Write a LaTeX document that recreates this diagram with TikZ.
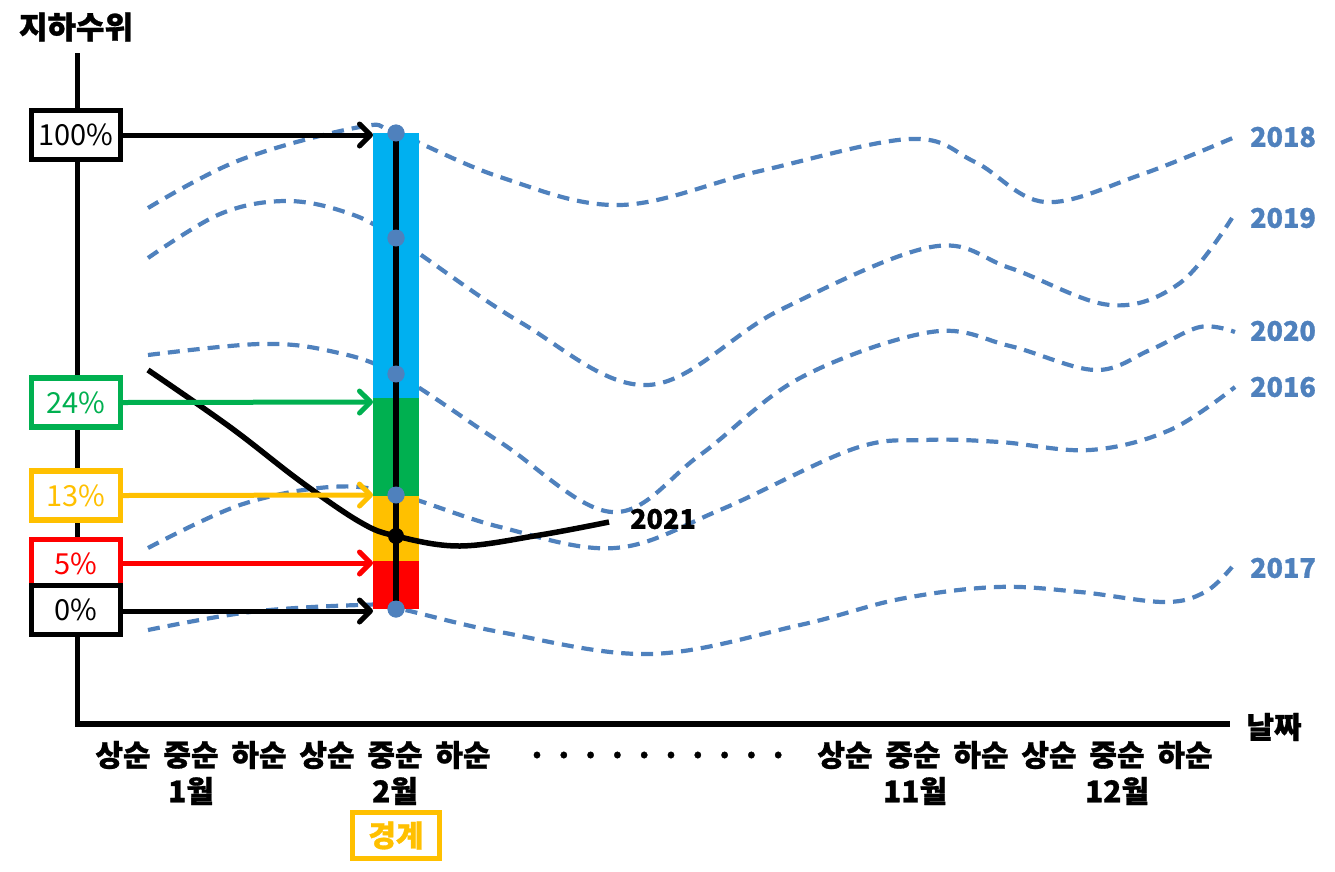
\documentclass[tikz,border=0pt]{standalone}
\usepackage{fontspec}
\setmainfont{Noto Sans CJK KR}[BoldFeatures={FakeBold=1}]
\usetikzlibrary{arrows.meta}
\definecolor{dblue}{HTML}{4F81BD}
\definecolor{barcyan}{HTML}{00B0F0}
\definecolor{bargreen}{HTML}{00B050}
\definecolor{baryellow}{HTML}{FFC000}
\definecolor{barred}{HTML}{FF0000}
\begin{document}
\begin{tikzpicture}[x=1pt,y=-1pt,
  pbox/.style={draw=#1, text=#1, line width=5.5pt, minimum width=89pt, minimum height=49pt, inner sep=0pt, fill=white, font=\fontsize{29}{31}\selectfont},
  hw/.style={font=\bfseries\fontsize{30}{32}\selectfont, inner sep=0pt},
  yr/.style={font=\bfseries\fontsize{27}{30}\selectfont, inner sep=0pt, text=dblue},
  arr/.style={draw=#1, line width=5pt, line cap=round, -{Straight Barb[length=11pt,width=22pt,line width=5pt,round]}},
  curve/.style={draw=dblue, line width=4.2pt, dash pattern=on 12pt off 8pt},
  dot/.style={circle, fill=dblue, minimum size=17pt, inner sep=0pt},
  axis/.style={line width=5.5pt}]
\useasboundingbox (0,0) rectangle (1335,871);

% axes
\coordinate (ytop) at (77.5,53);
\coordinate (orig) at (77.5,724);
\coordinate (xend) at (1230,724);
\draw[axis] (ytop) -- (orig) -- (xend);
\node[hw, font=\bfseries\fontsize{31}{33}\selectfont] (ylab) at (76,27) {지하수위};
\node[hw] (xlab) at (1274,727) {날짜};

% dashed curves
\draw[curve] plot[smooth, tension=0.6] coordinates {(148,208) (240,160) (360,127) (396,133) (500,177) (620,205) (760,171) (910,139) (975,162) (1045,202) (1140,175) (1235,137)};
\draw[curve] plot[smooth, tension=0.6] coordinates {(148,258) (220,214) (285,201) (345,212) (396,238) (520,322) (648,385) (780,310) (931,247) (1010,268) (1110,305) (1180,283) (1232,218)};
\draw[curve] plot[smooth, tension=0.6] coordinates {(148,355) (260,344) (330,351) (396,374) (500,442) (612,512) (700,455) (800,378) (931,332) (1010,346) (1095,370) (1150,350) (1200,327) (1235,332)};
\draw[curve] plot[smooth, tension=0.6] coordinates {(148,548) (240,505) (330,487) (396,494) (500,527) (615,548) (720,510) (853,449) (925,440) (1000,442) (1090,450) (1170,430) (1235,387)};
\draw[curve] plot[smooth, tension=0.6] coordinates {(148,630) (250,612) (360,605) (396,608) (500,632) (650,654) (800,625) (900,599) (997,587) (1080,592) (1164,602) (1205,592) (1232,567)};

% colour bar
\fill[fill=barcyan] (373,133) rectangle (419,398);
\fill[fill=bargreen] (373,398) rectangle (419,496);
\fill[fill=baryellow] (373,496) rectangle (419,561);
\fill[fill=barred] (373,561) rectangle (419,609);

% 2021 curve
\draw[line width=5.5pt] plot[smooth, tension=0.6] coordinates {(148,370) (230,427) (300,481) (360,522) (396,536) (460,546) (540,535) (609,522)};
\node[yr, text=black] (y2021) at (663,519) {2021};

% bar line and dots
\node[dot] (d1) at (396,133) {};
\node[dot] (d2) at (396,238) {};
\node[dot] (d3) at (396,374) {};
\node[dot] (d4) at (396,495) {};
\node[dot] (d5) at (396,609) {};
\draw[line width=5.2pt] (d1.center) -- (d5.center);
\foreach \n in {d1,d2,d3,d4,d5} \node[dot] at (\n) {};
\node[circle, fill=black, minimum size=16pt, inner sep=0pt] (d21) at (396,536) {};

% year labels
\node[yr] (l2018) at (1283,137) {2018};
\node[yr] (l2019) at (1283,218) {2019};
\node[yr] (l2020) at (1283,331) {2020};
\node[yr] (l2016) at (1283,387) {2016};
\node[yr] (l2017) at (1283,568) {2017};

% percentage boxes
\node[pbox=black] (p100) at (76,135) {100\%};
\node[pbox=bargreen] (p24) at (76,402.5) {24\%};
\node[pbox=baryellow] (p13) at (76,495.5) {13\%};
\node[pbox=barred] (p5) at (76,564) {5\%};
\node[pbox=black] (p0) at (76,610) {0\%};

\coordinate (a100) at (373,135);
\coordinate (a24) at (373,402);
\coordinate (a13) at (373,495);
\coordinate (a5) at (373,563);
\coordinate (a0) at (373,611);
\draw[arr=black] (p100.east) -- (a100);
\draw[arr=bargreen] (p24.east) -- (a24);
\draw[arr=baryellow] (p13.east) -- (a13);
\draw[arr=barred] (p5.east |- a5) -- (a5);
\draw[arr=black] (p0.east |- a0) -- (a0);

% x tick labels
\foreach \x/\t in {123/상순,191/중순,259/하순,327/상순,395/중순,463/하순,845/상순,913/중순,981/하순,1049/상순,1117/중순,1185/하순}
  \node[hw] at (\x,755) {\t};
\node[hw] (m1) at (191,791) {1월};
\node[hw] (m2) at (395,791) {2월};
\node[hw] (m11) at (915,791) {11월};
\node[hw] (m12) at (1117,791) {12월};
\foreach \i in {0,...,9}
  \node[hw] at ({537+26.8*\i},759) {·};

\node[hw, draw=baryellow, text=baryellow, line width=5.5pt, minimum width=87pt, minimum height=46pt] (warn) at (396,835.5) {경계};
\end{tikzpicture}
\end{document}
